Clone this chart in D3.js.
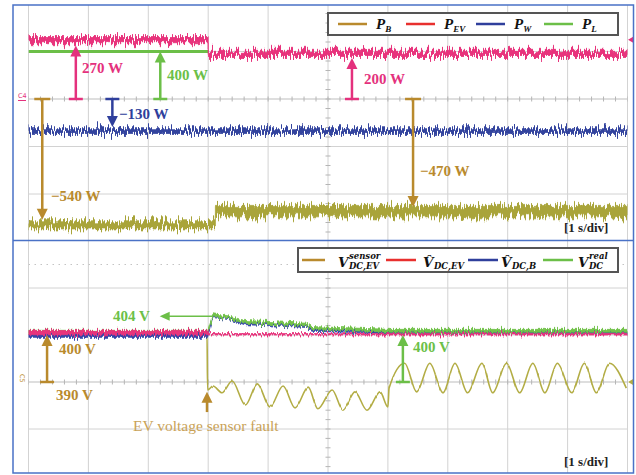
<!DOCTYPE html>
<html>
<head>
<meta charset="utf-8">
<script src="https://cdn.jsdelivr.net/npm/d3@7"></script>
<style>
  body { margin: 0; background: #fff; }
  svg { display: block; }
</style>
</head>
<body>
<svg width="636" height="475"></svg>
<script>
// ---- data read off the scope shots ----
// time in s (1 s/div, 10 div)
var timeDivs = [0, 1, 2, 3, 4, 5, 6, 7, 8, 9, 10];
var faultTime = 3.0;

// top panel: power, [t, W, ripple W]
var pB  = [[0, -530, 17], [3.12, -530, 17], [3.12, -472, 24], [10, -472, 24]];
var pEV = [[0, 250, 13], [3.0, 250, 13], [3.0, 192, 13], [10, 192, 13]];
var pW  = [[0, -135, 10], [10, -135, 10]];
var pL  = [[0, 400], [3.0, 400]];   // visible part; hidden under P_EV afterwards

// bottom panel: voltage, [t, V, ripple V]
var vEVhat = [[0, 400.5, 0.45], [3.0, 400.5, 0.45], [3.0, 400.15, 0.15], [10, 400.15, 0.15]];
var vBhat  = [[0, 399.8, 0.3], [2.99, 399.8, 0.3], [3.08, 404.0, 0.3], [3.33, 403.6, 0.3], [3.61, 402.5, 0.3],
              [4.65, 401.9, 0.3], [4.73, 401.1, 0.3], [6.03, 400.6, 0.3], [10, 400.6, 0.3]];
var vReal  = [[0, 400.7, 0.3], [2.99, 400.7, 0.3], [3.08, 404.2, 0.3], [3.33, 403.8, 0.3], [3.61, 402.8, 0.3],
              [4.65, 402.2, 0.3], [4.73, 401.5, 0.3], [6.03, 400.9, 0.3], [10, 400.9, 0.3]];
// sensor reading: peaks / troughs after the fault
var vSensor = [[0, 400.3], [2.98, 400.3], [2.99, 388.3], [3.08, 389.15], [3.23, 387.7], [3.40, 390.2], [3.62, 385.1],
               [3.82, 389.6], [4.03, 384.7], [4.25, 389.15], [4.45, 384.5], [4.67, 388.9], [4.83, 384.3],
               [5.07, 388.3], [5.25, 384.0], [5.45, 387.9], [5.65, 384.0], [5.87, 387.9], [6.0, 384.7],
               [6.02, 388.7], [6.28, 394.0], [6.48, 387.9], [6.70, 394.0], [6.92, 387.7], [7.12, 394.0],
               [7.33, 387.7], [7.57, 394.0], [7.75, 387.7], [7.98, 394.0], [8.2, 387.7], [8.42, 394.0],
               [8.62, 387.7], [8.83, 394.0], [9.07, 387.7], [9.28, 394.0], [9.48, 387.7], [9.7, 394.0], [9.98, 388.7]];

// annotations: [t, from, to, label]
var topNotes = [[0.79, 0, 225, "270 W", "pink"], [2.2, 0, 400, "400 W", "green"], [1.4, 0, -118, "\u2212130 W", "blue"],
                [0.23, 0, -508, "\u2212540 W", "brown"], [5.4, 0, 173, "200 W", "pink"], [6.42, 0, -455, "\u2212470 W", "brown"]];
var botNotes = [[0.31, 390, 400, "400 V", "brown"], [6.25, 390, 400, "400 V", "green"]];

var topLegend = [["P", "B", "brown"], ["P", "EV", "red"], ["P", "W", "blue"], ["P", "L", "green"]];

var col = {
  pink: "#e4317d", green: "#6cbf48", blue: "#2f3f9c", brown: "#b98a2d", red: "#e8302e",
  olive: "#a9a43a", sensor: "#b3ad45", frame: "#4a72c6"
};

var svg = d3.select("svg");
var defs = svg.append("defs");

// jitter filters for the noisy scope traces
function jitter(id, freq, scale) {
  var f = defs.append("filter").attr("id", id)
      .attr("filterUnits", "userSpaceOnUse")
      .attr("x", 0).attr("y", 0).attr("width", 636).attr("height", 475)
      .attr("color-interpolation-filters", "sRGB");
  f.append("feTurbulence").attr("type", "fractalNoise")
      .attr("baseFrequency", freq).attr("numOctaves", 2).attr("seed", 4).attr("result", "t");
  f.append("feColorMatrix").attr("in", "t").attr("type", "matrix")
      .attr("values", "0 0 0 0 0.5  0 1 0 0 0  0 0 1 0 0  0 0 0 0 1").attr("result", "m");
  f.append("feDisplacementMap").attr("in", "SourceGraphic").attr("in2", "m")
      .attr("scale", scale).attr("xChannelSelector", "R").attr("yChannelSelector", "G");
}
jitter("jTop", "0.7 0.03", 18);
jitter("jBot", "0.7 0.03", 9);
jitter("jSen", "0.5 0.03", 2.5);

defs.append("clipPath").attr("id", "clipTop").append("rect")
    .attr("x", 28.5).attr("y", 5).attr("width", 599).attr("height", 235);
defs.append("clipPath").attr("id", "clipBot").append("rect")
    .attr("x", 28.5).attr("y", 241).attr("width", 599).attr("height", 232);

var x = d3.scaleLinear().domain([0, 10]).range([28.5, 627.5]);
var yTop = d3.scaleLinear().domain([0, 200]).range([99, 51.5]);   // 200 W/div
var yTopL = d3.scaleLinear().domain([0, 400]).range([99, 51.5]);  // 400 W/div (P_L)
var yBot = d3.scaleLinear().domain([390, 400]).range([382, 335]); // 10 V/div

// ---- grids ----
function grid(g, yScale, levels, centre, y0, y1) {
  g.selectAll(".vg").data(timeDivs).enter().append("line")
    .attr("x1", function(d) { return x(d); }).attr("x2", function(d) { return x(d); })
    .attr("y1", y0).attr("y2", y1)
    .attr("stroke", function(d) { return d === 0 || d === 10 ? "#a8a8a8" : "#d2d2d2"; })
    .attr("stroke-width", 1);
  g.selectAll(".hg").data(levels).enter().append("line")
    .attr("x1", x(0)).attr("x2", x(10))
    .attr("y1", function(d) { return yScale(d); }).attr("y2", function(d) { return yScale(d); })
    .attr("stroke", function(d) { return d === centre ? "#bdbdbd" : "#d2d2d2"; })
    .attr("stroke-width", 1);
  // minor ticks on the centre lines
  g.selectAll(".tx").data(d3.range(0, 10.01, 0.2)).enter().append("line")
    .attr("x1", function(d) { return x(d); }).attr("x2", function(d) { return x(d); })
    .attr("y1", yScale(centre) - 2.5).attr("y2", yScale(centre) + 2.5)
    .attr("stroke", "#b5b5b5");
  var step = (yScale.domain()[1] - yScale.domain()[0]) / 5;
  var lo = yScale.invert(y1), hi = yScale.invert(y0);
  g.selectAll(".ty").data(d3.range(Math.ceil(lo / step) * step, hi, step)).enter().append("line")
    .attr("x1", x(5) - 2.5).attr("x2", x(5) + 2.5)
    .attr("y1", function(d) { return yScale(d); }).attr("y2", function(d) { return yScale(d); })
    .attr("stroke", "#b5b5b5");
}

var gTop = svg.append("g").attr("clip-path", "url(#clipTop)");
var gBot = svg.append("g").attr("clip-path", "url(#clipBot)");
grid(gTop, yTop, [-400, -200, 0, 200], 0, 5, 240);
grid(gBot, yBot, [380, 390, 400, 410], 390, 241, 473);
gBot.append("line").attr("x1", x(0)).attr("x2", x(10))
    .attr("y1", yBot(415)).attr("y2", yBot(415))
    .attr("stroke", "#c4c4c4").attr("stroke-dasharray", "1.5,4.5");

// ---- traces ----
function band(g, data, yScale, color, filter) {
  g.append("path").datum(data)
    .attr("d", d3.area()
      .x(function(d) { return x(d[0]); })
      .y0(function(d) { return yScale(d[1] - d[2]); })
      .y1(function(d) { return yScale(d[1] + d[2]); }))
    .attr("fill", color)
    .attr("stroke", color).attr("stroke-width", 0.8)
    .attr("filter", filter);
}

gTop.append("path").datum(pL)
  .attr("d", d3.line().x(function(d) { return x(d[0]); }).y(function(d) { return yTopL(d[1]); }))
  .attr("fill", "none").attr("stroke", col.green).attr("stroke-width", 3);
band(gTop, pEV, yTop, "#e8337c", "url(#jTop)");
band(gTop, pW, yTop, "#33449e", "url(#jTop)");
band(gTop, pB, yTop, col.olive, "url(#jTop)");

gBot.append("path").datum(vSensor)
  .attr("d", d3.line().curve(d3.curveMonotoneX)
    .x(function(d) { return x(d[0]); }).y(function(d) { return yBot(d[1]); }))
  .attr("fill", "none").attr("stroke", col.sensor).attr("stroke-width", 1.6)
  .attr("filter", "url(#jSen)");
band(gBot, vBhat, yBot, "#3344a8", "url(#jBot)");
band(gBot, vReal, yBot, "#72c24a", "url(#jBot)");
band(gBot, vEVhat, yBot, "#e8337c", "url(#jBot)");

// ---- annotations ----
var font = "'Liberation Serif', 'Times New Roman', serif";

function vArrow(g, t, y0, y1, color, bar) {
  var xx = x(t), dir = y1 < y0 ? 1 : -1;
  g.append("line").attr("x1", xx - bar / 2).attr("x2", xx + bar / 2).attr("y1", y0).attr("y2", y0)
    .attr("stroke", color).attr("stroke-width", 2.5);
  g.append("line").attr("x1", xx).attr("x2", xx).attr("y1", y0).attr("y2", y1 + dir * 8)
    .attr("stroke", color).attr("stroke-width", 2.5);
  g.append("path")
    .attr("d", "M" + xx + "," + y1 + "L" + (xx - 5.5) + "," + (y1 + dir * 11) + "L" + (xx + 5.5) + "," + (y1 + dir * 11) + "Z")
    .attr("fill", color);
}

function note(txt, px, py, color, size, weight) {
  svg.append("text").attr("x", px).attr("y", py).text(txt)
    .attr("font-family", font).attr("font-size", size || 15)
    .attr("font-weight", weight || "bold").attr("fill", color);
}

topNotes.forEach(function(d) {
  var ys = d[4] === "green" ? yTopL : yTop;
  vArrow(svg, d[0], ys(d[1]), ys(d[2]), col[d[4]], d[4] === "brown" ? 16 : 14);
});
note("270 W", 82, 73, col.pink);
note("400 W", 167, 80, col.green);
note("\u2212130 W", 119, 119, col.blue);
note("\u2212540 W", 51, 201, col.brown);
note("200 W", 364, 84, col.pink);
note("\u2212470 W", 420, 176, col.brown);

botNotes.forEach(function(d) {
  vArrow(svg, d[0], yBot(d[1]), yBot(d[2]), col[d[4]], 14);
});
note("400 V", 59, 354, col.brown);
note("390 V", 56, 400, col.brown);
note("400 V", 413, 352, col.green);

// 404 V pointer
svg.append("line").attr("x1", x(faultTime) + 5).attr("x2", x(2.28))
  .attr("y1", yBot(404)).attr("y2", yBot(404))
  .attr("stroke", col.green).attr("stroke-width", 1.4);
svg.append("path")
  .attr("d", "M" + x(2.19) + "," + yBot(404) + "l10,-4.5l0,9Z").attr("fill", col.green);
note("404 V", 113, 321, col.green);

// fault marker
vArrow(svg, 2.98, yBot(383.6), yBot(387.9), col.brown, 0);
note("EV voltage sensor fault", 133, 431, "#c9a257", 15.5, "normal");

note("[1 s/div]", 564, 232, "#222", 13);
note("[1 s/div]", 564, 466, "#222", 13);

// channel markers
svg.append("text").attr("x", 18).attr("y", 98).text("C4")
  .attr("font-family", "'DejaVu Sans', sans-serif").attr("font-size", 6.5).attr("fill", col.pink);
svg.append("line").attr("x1", 18).attr("x2", 26).attr("y1", 100.5).attr("y2", 100.5)
  .attr("stroke", col.pink).attr("stroke-width", 1);
svg.append("text").attr("transform", "translate(20,374) rotate(90)").text("C5")
  .attr("font-family", "'DejaVu Sans', sans-serif").attr("font-size", 6.5).attr("fill", col.brown);
svg.append("path").attr("d", "M628," + yTop(250) + "l6,-3.5l0,7Z").attr("fill", col.pink);
svg.append("path").attr("d", "M628," + yBot(390) + "l6,-3.5l0,7Z").attr("fill", col.sensor);

// ---- legends ----
var lt = svg.append("g");
lt.append("rect").attr("x", 328).attr("y", 13).attr("width", 290).attr("height", 22)
  .attr("fill", "#fff").attr("stroke", "#555").attr("stroke-width", 2);
var topSw = [338, 406, 476, 544];
topLegend.forEach(function(d, i) {
  lt.append("line").attr("x1", topSw[i]).attr("x2", topSw[i] + 29).attr("y1", 24).attr("y2", 24)
    .attr("stroke", col[d[2]]).attr("stroke-width", 2.5);
  var t = lt.append("text").attr("x", topSw[i] + 38).attr("y", 29)
    .attr("font-family", font).attr("font-style", "italic").attr("font-weight", "bold")
    .attr("font-size", 15).attr("fill", "#111");
  t.append("tspan").text(d[0]);
  t.append("tspan").attr("dy", 3).attr("font-size", 9).text(d[1]);
});

var lb = svg.append("g");
lb.append("rect").attr("x", 298).attr("y", 248).attr("width", 320).attr("height", 24)
  .attr("fill", "#fff").attr("stroke", "#555").attr("stroke-width", 2);
var botLegend = [[302, 23, "brown", 338, "", "sensor", "DC,EV"],
                 [386, 30, "red", 423, "\u0302", "", "DC,EV"],
                 [468, 30, "blue", 501, "\u0302", "", "DC,B"],
                 [543, 30, "green", 578, "", "real", "DC"]];
botLegend.forEach(function(d) {
  lb.append("line").attr("x1", d[0]).attr("x2", d[0] + d[1]).attr("y1", 260).attr("y2", 260)
    .attr("stroke", col[d[2]]).attr("stroke-width", 2.5);
  lb.append("text").attr("x", d[3]).attr("y", 267).text("V" + d[4])
    .attr("font-family", "'DejaVu Serif', serif").attr("font-style", "italic").attr("font-weight", "bold")
    .attr("font-size", 13.5).attr("fill", "#111");
  if (d[5]) lb.append("text").attr("x", d[3] + 11).attr("y", 259).text(d[5])
    .attr("font-family", "'DejaVu Serif', serif").attr("font-style", "italic").attr("font-weight", "bold")
    .attr("font-size", 8.5).attr("fill", "#111");
  lb.append("text").attr("x", d[3] + 11).attr("y", 269).text(d[6])
    .attr("font-family", "'DejaVu Serif', serif").attr("font-style", "italic").attr("font-weight", "bold")
    .attr("font-size", 8.5).attr("fill", "#111");
});

// ---- frame ----
svg.append("rect").attr("x", 13).attr("y", 5).attr("width", 620.5).attr("height", 468)
  .attr("fill", "none").attr("stroke", col.frame).attr("stroke-width", 1.5);
svg.append("line").attr("x1", 13).attr("x2", 633.5).attr("y1", 240.5).attr("y2", 240.5)
  .attr("stroke", col.frame).attr("stroke-width", 1.5);
</script>
</body>
</html>
